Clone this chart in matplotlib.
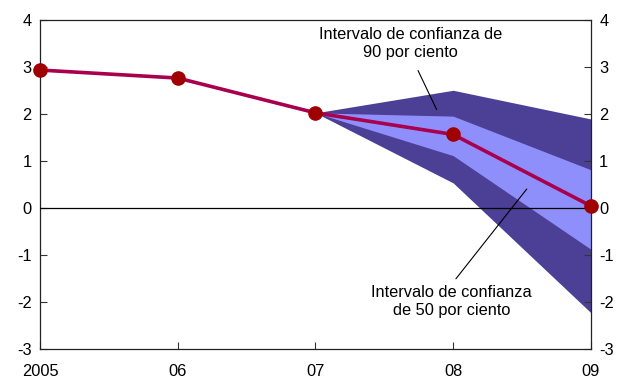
import matplotlib
matplotlib.use("Agg")
import matplotlib.pyplot as plt

plt.rcParams['font.family'] = ['Liberation Sans', 'DejaVu Sans']
plt.rcParams['axes.unicode_minus'] = False

# projection path and fan bands
years = [2005, 2006, 2007, 2008, 2009]
values = [2.93, 2.76, 2.02, 1.56, 0.04]

fan_years = [2007, 2008, 2009]
upper90 = [2.02, 2.50, 1.89]
upper50 = [2.02, 1.95, 0.81]
lower50 = [2.02, 1.11, -0.88]
lower90 = [2.02, 0.53, -2.23]

xtick_labels = ["2005", "06", "07", "08", "09"]
yticks = [-3, -2, -1, 0, 1, 2, 3, 4]

DARK = "#4B4096"
LIGHT = "#8F8FFC"
LINE = "#A8004E"
DOT = "#A00000"
FS = 11.8

fig = plt.figure(figsize=(6.18, 3.80), dpi=100)
ax = fig.add_axes([0.065, 0.082, 0.891, 0.866])

ax.fill_between(fan_years, lower90, upper90, color=DARK, lw=0, zorder=1)
ax.fill_between(fan_years, lower50, upper50, color=LIGHT, lw=0, zorder=2)
ax.axhline(0, color="black", lw=0.9, zorder=3)
ax.plot(years, values, color=LINE, lw=2.6, zorder=4)
ax.plot(years, values, ls="none", marker="o", ms=9.5, color=DOT, zorder=5, clip_on=False)

ax.set_xlim(2005, 2009)
ax.set_ylim(-3, 4)
ax.set_xticks(years)
ax.set_xticklabels(xtick_labels)
ax.set_yticks(yticks)
ax.tick_params(axis="both", direction="in", length=5, width=0.8, labelsize=FS,
               color="#333333")
ax.tick_params(axis="y", right=True, labelright=True, pad=6)
ax.tick_params(axis="x", pad=11)
for s in ax.spines.values():
    s.set_color("#222222")
    s.set_linewidth(0.9)

# band labels with leader lines
ax.text(2007.69, 3.5, "Intervalo de confianza de\n90 por ciento", ha="center",
        va="center", fontsize=FS, linespacing=1.25)
ax.annotate("", xy=(2007.88, 2.09), xytext=(2007.745, 2.92),
            arrowprops=dict(arrowstyle="-", color="black", lw=0.8,
                            shrinkA=0, shrinkB=0))
ax.text(2007.99, -2.0, "Intervalo de confianza\nde 50 por ciento", ha="center",
        va="center", fontsize=FS, linespacing=1.25)
ax.annotate("", xy=(2008.535, 0.40), xytext=(2008.02, -1.51),
            arrowprops=dict(arrowstyle="-", color="black", lw=0.8,
                            shrinkA=0, shrinkB=0))

fig.savefig("out.png", dpi=100)
